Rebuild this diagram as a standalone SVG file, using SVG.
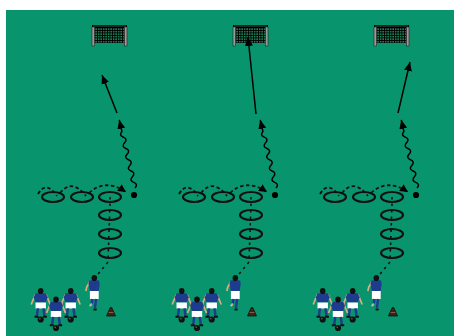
<svg xmlns="http://www.w3.org/2000/svg" xmlns:xlink="http://www.w3.org/1999/xlink" width="454" height="336" viewBox="0 0 454 336">
<style>
.hoop{fill:none;stroke:#111;stroke-width:2.1}
.arr{fill:none;stroke:#000;stroke-width:1.5}
.dash{fill:none;stroke:#111;stroke-width:1.8;stroke-dasharray:3.5 2.5}
.vdash{fill:none;stroke:#111;stroke-width:1.6;stroke-dasharray:2.5 4}
.blue{stroke:#1d3c8e}
.skin{stroke:#e2ab84}
</style>
<defs>
<marker id="ah" markerUnits="userSpaceOnUse" markerWidth="10" markerHeight="8" refX="9" refY="4" orient="auto">
<path d="M0 0 L9 4 L0 8 Z" fill="#000"/>
</marker>
<marker id="ahs" markerUnits="userSpaceOnUse" markerWidth="9" markerHeight="8" refX="8" refY="4" orient="auto">
<path d="M0 0 L8 4 L0 8 Z" fill="#000"/>
</marker>
<pattern id="net" width="2.5" height="2.5" patternUnits="userSpaceOnUse">
<rect width="2.5" height="2.5" fill="#1d7a55"/>
<path d="M0 0.4H2.5M0.4 0V2.5" stroke="#000" stroke-width="0.9"/>
</pattern>
<g id="goal">
<rect x="2" y="2" width="31" height="16" fill="url(#net)"/>
<rect x="0" y="0" width="35" height="3" fill="#000"/>
<rect x="1" y="0.6" width="33" height="0.8" fill="#555"/>
<rect x="0" y="2" width="2.6" height="19" fill="#9a9a9a" stroke="#222" stroke-width="0.6"/>
<rect x="32.4" y="2" width="2.6" height="19" fill="#9a9a9a" stroke="#222" stroke-width="0.6"/>
</g>
<g id="cone">
<path d="M-4.5 4 L4.5 4 L0.8 -4.5 L-0.8 -4.5 Z" fill="#3b2418" stroke="#111" stroke-width="0.8"/>
<path d="M-2.4 0.5 L2.4 0.5" stroke="#8a5a40" stroke-width="1"/>
</g>
<g id="pl">
<path class="skin" d="M-5.4 3.5 L-9.5 13.5" stroke-width="1.7" fill="none"/>
<path class="skin" d="M5.4 3.5 L9.5 13.5" stroke-width="1.7" fill="none"/>
<path d="M-5.2 2.5 Q0 1.6 5.2 2.5 L7 6.2 L5 11.5 L-5 11.5 L-7 6.2 Z" fill="#1d3c8e"/>
<rect x="-5.2" y="11.5" width="10.4" height="6" fill="#fff"/>
<path class="blue" d="M-2.8 17.3 L-3.8 25 M2.8 17.3 L3.8 25" stroke-width="2.5" fill="none"/>
<path d="M-6.2 25.8 H-2.2 M2.2 25.8 H6.2" stroke="#111" stroke-width="1.9"/>
<ellipse cx="0" cy="0" rx="2.8" ry="3.1" fill="#111"/>
<circle cx="0" cy="28.5" r="3.1" fill="#111"/>
<circle cx="-0.8" cy="27.7" r="0.7" fill="#777"/>
</g>
<g id="rp">
<path class="skin" d="M-4.6 4 L-7.5 9 L-8.5 13" stroke-width="1.7" fill="none"/>
<path d="M-4.8 2.5 Q0 1.6 4.8 2.5 L5.4 6 L4.4 13 L-4.4 13 L-5.8 5.5 Z" fill="#1d3c8e"/>
<rect x="-4.4" y="13" width="8.8" height="8" fill="#fff"/>
<path class="blue" d="M-1.8 21 L-2.6 25.5" stroke-width="2.5" fill="none"/>
<path class="skin" d="M-2.6 25.5 L-4 27.5" stroke-width="1.7" fill="none"/>
<path d="M-4.8 28 L-3 26.8" stroke="#bbb" stroke-width="1.8"/>
<path class="blue" d="M1.8 21 L0.6 30" stroke-width="2.5" fill="none"/>
<path d="M-0.8 31.5 H2.4" stroke="#111" stroke-width="1.9"/>
<ellipse cx="0" cy="0" rx="2.8" ry="3.1" fill="#111"/>
</g>
<g id="hoops">
<ellipse class="hoop" cx="53" cy="197" rx="11" ry="5"/>
<ellipse class="hoop" cx="82" cy="197" rx="11" ry="5"/>
<ellipse class="hoop" cx="110" cy="197" rx="11" ry="5"/>
<ellipse class="hoop" cx="110" cy="215" rx="11" ry="5"/>
<ellipse class="hoop" cx="110" cy="234" rx="11" ry="5"/>
<ellipse class="hoop" cx="110" cy="253" rx="11" ry="5"/>
</g>
<g id="players">
<use xlink:href="#pl" x="40.7" y="291"/>
<use xlink:href="#pl" x="70.7" y="291"/>
<use xlink:href="#pl" x="56" y="299.5"/>
<use xlink:href="#rp" x="94.3" y="278"/>
<use xlink:href="#cone" x="111" y="312"/>
<circle cx="134" cy="195" r="3.1" fill="#000"/>
</g>
<g id="paths">
<path class="vdash" d="M94 279 L108 262 L110 204 L110 194"/>
<path class="dash" d="M38 194 Q46 180 57 196"/>
<path class="dash" d="M60 193 Q72 178 86 196"/>
<path class="dash" d="M89 193 Q105 178 126 192" marker-end="url(#ahs)"/>
<path class="arr" transform="translate(135 188) rotate(-13)" d="M0 0 q4.2 -2.9 0 -5.8 t0 -5.8 t0 -5.8 t0 -5.8 t0 -5.8 t0 -5.8 t0 -5.8 t0 -5.8 t0 -5.8 t0 -5.8 L0 -70" marker-end="url(#ah)"/>
</g>
</defs>
<rect x="0" y="0" width="454" height="336" fill="#fff"/>
<rect id="field" x="6" y="10" width="448" height="326" fill="#08956d"/>
<g id="goal-1"><use xlink:href="#goal" x="92" y="25"/></g>
<g id="goal-2"><use xlink:href="#goal" x="233" y="25"/></g>
<g id="goal-3"><use xlink:href="#goal" x="374" y="25"/></g>
<g id="hoops-1"><use xlink:href="#hoops"/></g>
<g id="hoops-2"><use xlink:href="#hoops" x="141"/></g>
<g id="hoops-3"><use xlink:href="#hoops" x="282"/></g>
<g id="connectors">
<use xlink:href="#paths"/>
<use xlink:href="#paths" x="141"/>
<use xlink:href="#paths" x="282"/>
<path class="arr" d="M117 113 L102 75" marker-end="url(#ah)"/>
<path class="arr" d="M256 114 L248 37" marker-end="url(#ah)"/>
<path class="arr" d="M398 113 L410 62" marker-end="url(#ah)"/>
</g>
<g id="players-1"><use xlink:href="#players"/></g>
<g id="players-2"><use xlink:href="#players" x="141"/></g>
<g id="players-3"><use xlink:href="#players" x="282"/></g>
</svg>
